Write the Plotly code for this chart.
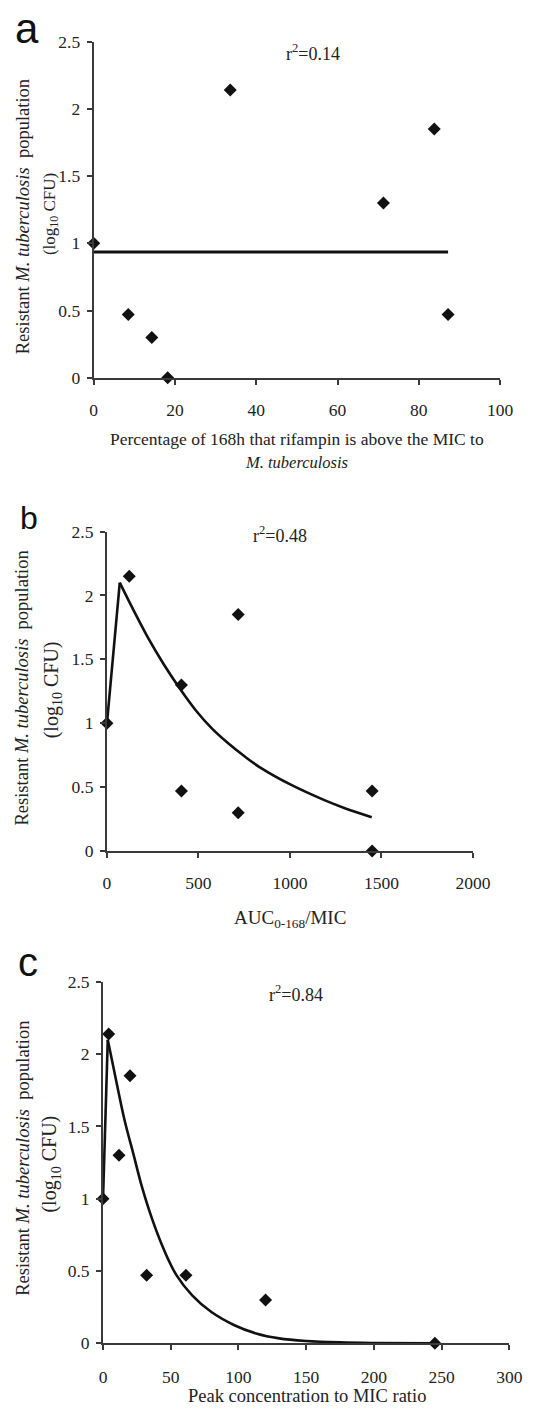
import plotly.graph_objects as go

# ---- data ----
# (a) % of 168 h that rifampin is above the MIC
a_x = [0, 8.5, 14.3, 18.2, 33.6, 71.3, 83.8, 87.2]
a_y = [1.0, 0.47, 0.30, 0.0, 2.14, 1.30, 1.85, 0.47]
a_fit_x = [0, 87.2]
a_fit_y = [0.935, 0.935]

# (b) AUC0-168/MIC
b_x = [0, 122, 407, 407, 717, 717, 1449, 1449]
b_y = [1.0, 2.15, 1.30, 0.47, 1.85, 0.30, 0.47, 0.0]
b_fit_x = [0, 70, 136, 224, 311, 399, 486, 573, 661, 748, 836, 1010, 1185, 1300, 1447]
b_fit_y = [1.0, 2.10, 1.91, 1.67, 1.46, 1.27, 1.10, 0.96, 0.845, 0.745, 0.655, 0.515,
           0.40, 0.335, 0.265]

# (c) peak concentration to MIC ratio
c_x = [0, 4.2, 11.8, 19.9, 32.2, 61.2, 120, 245]
c_y = [1.0, 2.14, 1.30, 1.85, 0.47, 0.47, 0.30, 0.0]
c_fit_x = [0, 3.5, 11.8, 16.5, 22.4, 28.8, 36.6, 46, 54.3, 66, 80, 97, 113, 130,
           150, 175, 200, 245]
c_fit_y = [1.0, 2.10, 1.72, 1.52, 1.31, 1.08, 0.85, 0.625, 0.47, 0.33, 0.216,
           0.125, 0.068, 0.034, 0.016, 0.006, 0.002, 0.0]

r2_labels = ["r<sup>2</sup>=0.14", "r<sup>2</sup>=0.48", "r<sup>2</sup>=0.84"]
y_ticks = [0, 0.5, 1, 1.5, 2, 2.5]

W, H = 544, 1422
SERIF = "Liberation Serif, Times New Roman, serif"
SANS = "Liberation Sans, Arial, sans-serif"
INK = "#111111"
AXIS = "#3a3a3a"


def px(x):
    return x / W


def py(y):
    return 1 - y / H


fig = go.Figure()

panels = [
    (a_x, a_y, a_fit_x, a_fit_y, "x", "y"),
    (b_x, b_y, b_fit_x, b_fit_y, "x2", "y2"),
    (c_x, c_y, c_fit_x, c_fit_y, "x3", "y3"),
]
for xs, ys, fx, fy, xa, ya in panels:
    if len(fx) > 2:
        # sharp rise to the peak, then a smooth decay
        fig.add_trace(go.Scatter(x=fx[:2], y=fy[:2], mode="lines", xaxis=xa, yaxis=ya,
                                 line=dict(color=INK, width=2.6), cliponaxis=False,
                                 showlegend=False, hoverinfo="skip"))
        fig.add_trace(go.Scatter(x=fx[1:], y=fy[1:], mode="lines", xaxis=xa, yaxis=ya,
                                 line=dict(color=INK, width=2.6, shape="spline",
                                           smoothing=1.0),
                                 cliponaxis=False, showlegend=False, hoverinfo="skip"))
    else:
        fig.add_trace(go.Scatter(x=fx, y=fy, mode="lines", xaxis=xa, yaxis=ya,
                                 line=dict(color=INK, width=2.8), cliponaxis=False,
                                 showlegend=False, hoverinfo="skip"))
    fig.add_trace(go.Scatter(x=xs, y=ys, mode="markers", xaxis=xa, yaxis=ya,
                             marker=dict(symbol="diamond", size=10, color=INK),
                             cliponaxis=False, showlegend=False))

axis_common = dict(showline=True, linecolor=AXIS, linewidth=2, ticks="outside",
                   ticklen=5, tickwidth=1.5, tickcolor=AXIS, showgrid=False,
                   zeroline=False, tickfont=dict(family=SERIF, size=17.5, color="#222"))

# pixel boxes of the three plot areas: (left, right, top, bottom)
boxes = [(93.5, 517, 32, 373), (107.3, 488.7, 529, 853), (103.2, 526.7, 985.7, 1352.3)]
x_ranges = [(0, 100, 20), (0, 2000, 500), (0, 300, 50)]
x_standoff = [10, 10, 12]

for i, ((l, r, t, b), (x0, x1, dx)) in enumerate(zip(boxes, x_ranges)):
    sfx = "" if i == 0 else str(i + 1)
    fig.update_layout({
        f"xaxis{sfx}": dict(domain=[px(l), px(r)], range=[x0, x1], dtick=dx, tick0=0,
                            anchor=f"y{sfx}", ticklabelstandoff=x_standoff[i],
                            **axis_common),
        f"yaxis{sfx}": dict(domain=[py(b), py(t)], range=[0, 2.5], tickvals=y_ticks,
                            anchor=f"x{sfx}", ticklabelstandoff=3, **axis_common),
    })

annotations = []


def note(text, x, y, size, family=SERIF, angle=0, color="#222"):
    annotations.append(dict(text=text, x=px(x), y=py(y), xref="paper", yref="paper",
                            showarrow=False, xanchor="center", yanchor="middle",
                            textangle=angle, font=dict(family=family, size=size, color=color)))


# panel letters
note("a", 23.5, 19, 42, SANS, color="#111")
note("b", 26, 515, 32, SANS, color="#111")
note("c", 25, 966, 40, SANS, color="#111")

# r^2 labels
note(r2_labels[0], 322, 43, 18)
note(r2_labels[1], 288, 532, 18)
note(r2_labels[2], 304, 998, 18)

# x-axis titles
note("Percentage of 168h that rifampin is above the MIC to", 305, 435, 17.5)
note("<i>M. tuberculosis</i>", 305, 459, 16.5)
note("AUC<sub>0-168</sub>/MIC", 298, 922, 19)
note("Peak concentration to MIC ratio", 316, 1406, 18.5)

# y-axis titles (two rotated lines per panel)
ytitle1 = "Resistant <i>M. tuberculosis</i>&nbsp; population"
ytitle2 = "(log<sub>10</sub> CFU)"
for (x1, y1, x2, y2, s2) in [(20, 210, 49, 207, 17), (19, 688, 50, 689, 20),
                             (19, 1165, 49, 1171, 20)]:
    note(ytitle1, x1, y1, 18.5, angle=-90)
    note(ytitle2, x2, y2, s2, angle=-90)

fig.update_layout(width=W, height=H, autosize=False,
                  margin=dict(l=0, r=0, t=0, b=0),
                  font=dict(family=SERIF, color="#222"),
                  paper_bgcolor="white", plot_bgcolor="white",
                  annotations=annotations, showlegend=False)

fig.write_html("out.html")
